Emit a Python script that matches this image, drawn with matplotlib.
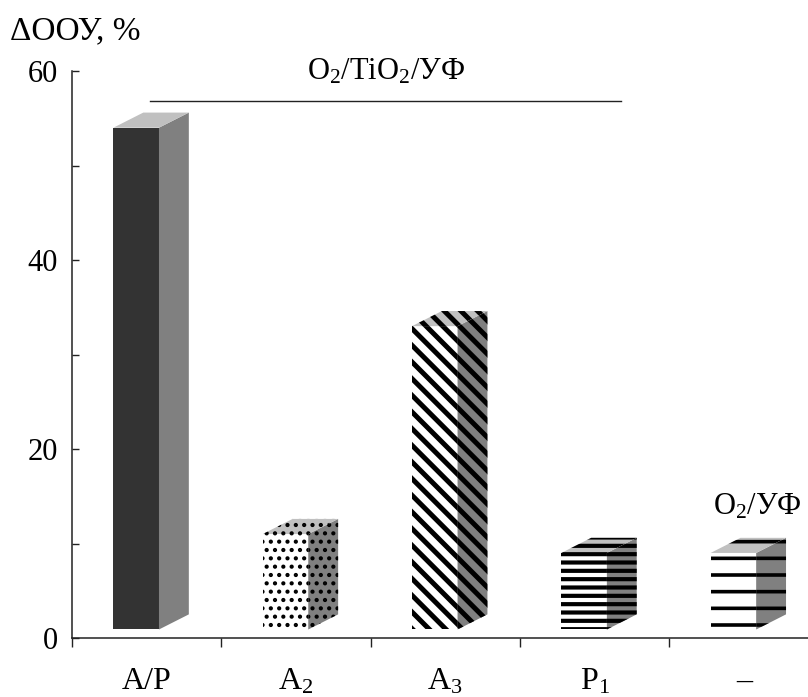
import matplotlib
matplotlib.use('Agg')
import matplotlib.pyplot as plt
from matplotlib.patches import Polygon

# ---- data ----
categories = ['А/Р', 'А$_2$', 'А$_3$', 'Р$_1$', '–']
values = [54, 11, 33, 9, 9]
ylabel = 'ΔООУ, %'
group_label = 'O$_2$/TiO$_2$/УФ'
control_label = 'O$_2$/УФ'
yticks_major = [0, 20, 40, 60]
yticks_minor = [10, 30, 50]

# ---- style / layout ----
BASE = 0.9          # bars float slightly above the floor
OFFSET = 0.43       # front-face centre within category slot
WIDTH = 0.305       # front-face width
DX = 0.20           # depth (category units)
DY = 1.6            # depth (value units)
front_colors = ['#333333', 'white', 'white', 'white', 'white']
side_color = '#808080'
top_color = '#c0c0c0'
hatches = [None, '..', '\\\\', '--', '-']
hatch_lws = [0.0, 1.8, 3.6, 3.0, 2.6]

plt.rcParams['font.family'] = ['Liberation Serif', 'DejaVu Serif']
plt.rcParams['mathtext.fontset'] = 'custom'
plt.rcParams['mathtext.rm'] = 'Liberation Serif'
plt.rcParams['mathtext.it'] = 'Liberation Serif:italic'
plt.rcParams['mathtext.default'] = 'rm'
plt.rcParams['hatch.color'] = 'black'

fig = plt.figure(figsize=(8.08, 6.97), dpi=100)
ax = fig.add_axes([72 / 808, 59 / 697, 746.5 / 808, 567 / 697])
ax.set_xlim(0, 5)
ax.set_ylim(0, 60)

axis_color = '#222222'
for s in ('top', 'right'):
    ax.spines[s].set_visible(False)
for s in ('left', 'bottom'):
    ax.spines[s].set_color(axis_color)
    ax.spines[s].set_linewidth(1.1)


def set_hlw(p, lw):
    if hasattr(p, 'set_hatch_linewidth'):
        p.set_hatch_linewidth(lw)
    else:
        plt.rcParams['hatch.linewidth'] = lw


xs = [i + OFFSET for i in range(len(values))]
bars = ax.bar(xs, [v - BASE for v in values], bottom=BASE, width=WIDTH,
              color=front_colors, linewidth=0, edgecolor='black', zorder=3)
for i, (b, v) in enumerate(zip(bars, values)):
    h = hatches[i]
    xr = xs[i] + WIDTH / 2
    xl = xs[i] - WIDTH / 2
    side = Polygon([(xr, BASE), (xr + DX, BASE + DY), (xr + DX, v + DY), (xr, v)],
                   closed=True, facecolor=side_color, edgecolor='black',
                   linewidth=0, zorder=3)
    top = Polygon([(xl, v), (xl + DX, v + DY), (xr + DX, v + DY), (xr, v)],
                  closed=True, facecolor=top_color, edgecolor='black',
                  linewidth=0, zorder=3)
    ax.add_patch(side)
    ax.add_patch(top)
    if h:
        for p in (b, side, top):
            p.set_hatch(h)
            set_hlw(p, hatch_lws[i])

# ---- ticks ----
ax.set_xticks(range(len(values) + 1))
ax.set_xticklabels([])
ax.set_xticks([i + 0.5 for i in range(len(values))], minor=True)
ax.set_xticklabels(categories, minor=True, fontsize=23)
ax.tick_params(axis='x', which='major', direction='out', length=6.5,
               width=1.0, color=axis_color)
ax.tick_params(axis='x', which='minor', length=0, pad=21)

ax.set_yticks(yticks_major)
ax.set_yticklabels([str(t) for t in yticks_major], fontsize=22)
ax.set_yticks(yticks_minor, minor=True)
ax.tick_params(axis='y', which='both', direction='in', length=5,
               width=1.0, color=axis_color, pad=10)

# ---- annotations ----
fig.text(10 / 808, 1 - 39 / 697, ylabel, fontsize=24, ha='left', va='baseline')
ax.text(2.10, 59.05, group_label, fontsize=22, ha='center', va='baseline',
        clip_on=False)
ax.plot([0.52, 3.68], [56.85, 56.85], color=axis_color, lw=1.0, clip_on=False)
ax.text(4.59, 13.1, control_label, fontsize=22, ha='center', va='baseline',
        clip_on=False)

fig.savefig('out.png', dpi=100)
